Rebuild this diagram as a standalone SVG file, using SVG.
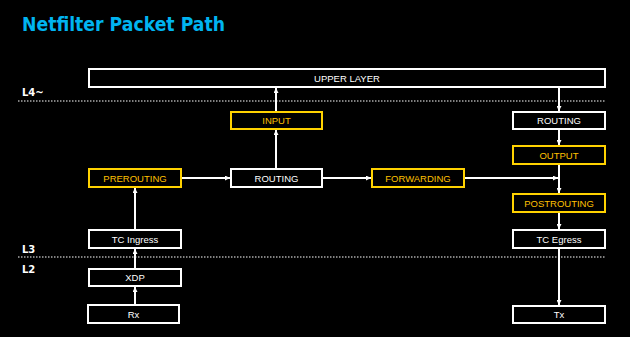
<svg xmlns="http://www.w3.org/2000/svg" width="630" height="337" viewBox="0 0 630 337">
<defs>
<marker id="ah" viewBox="0 0 10 10" refX="10" refY="5" markerWidth="5" markerHeight="5" orient="auto" markerUnits="userSpaceOnUse">
<path d="M0,0 L10,5 L0,10 z" fill="#fff"/>
</marker>
<style>
.w rect{fill:#000;stroke:#fff;stroke-width:2}
.y rect{fill:#000;stroke:#ffd200;stroke-width:2}
text{font-family:"Liberation Sans",Arial,sans-serif;font-size:9.5px;text-anchor:middle;dominant-baseline:central}
.w text{fill:#fff}
.y text{fill:#ffc000}
.lyr{font-family:"DejaVu Sans",Verdana,sans-serif;font-weight:bold;font-size:10px;fill:#fff;text-anchor:start}
.dot{stroke:#aaa;stroke-width:1.5;stroke-dasharray:1.5 1.5}
#conn line{stroke:#fff;stroke-width:2;marker-end:url(#ah)}
</style>
</defs>
<rect width="630" height="337" fill="#000"/>
<text x="22" y="31" style="font-family:'DejaVu Sans',Verdana,sans-serif;font-weight:bold;font-size:20px;fill:#00b4f0;text-anchor:start;dominant-baseline:auto" textLength="203" lengthAdjust="spacingAndGlyphs">Netfilter Packet Path</text>
<text class="lyr" x="22" y="92">L4~</text>
<text class="lyr" x="22" y="249">L3</text>
<text class="lyr" x="22" y="269">L2</text>
<line class="dot" x1="18" y1="101" x2="605" y2="101"/>
<line class="dot" x1="18" y1="257" x2="605" y2="257"/>
<g id="conn">
<line x1="135" y1="305" x2="135" y2="287"/>
<line x1="135" y1="269" x2="135" y2="249"/>
<line x1="135" y1="230" x2="135" y2="188"/>
<line x1="181" y1="178" x2="230" y2="178"/>
<line x1="276" y1="169" x2="276" y2="130"/>
<line x1="276" y1="112" x2="276" y2="88"/>
<line x1="322" y1="178" x2="371" y2="178"/>
<line x1="464" y1="178" x2="558" y2="178"/>
<line x1="559" y1="87" x2="559" y2="111"/>
<line x1="559" y1="129" x2="559" y2="145"/>
<line x1="559" y1="164" x2="559" y2="193"/>
<line x1="559" y1="212" x2="559" y2="229"/>
<line x1="559" y1="248" x2="559" y2="305"/>
</g>
<g id="upper" class="w"><rect x="89" y="69" width="516" height="18"/><text x="347" y="78">UPPER LAYER</text></g>
<g id="input" class="y"><rect x="231" y="112" width="91" height="17"/><text x="276.5" y="120.5">INPUT</text></g>
<g id="prerouting" class="y"><rect x="89" y="169" width="92" height="18"/><text x="135" y="178">PREROUTING</text></g>
<g id="routing1" class="w"><rect x="231" y="169" width="91" height="18"/><text x="276.5" y="178">ROUTING</text></g>
<g id="forwarding" class="y"><rect x="372" y="169" width="92" height="18"/><text x="418" y="178">FORWARDING</text></g>
<g id="routing2" class="w"><rect x="513" y="112" width="92" height="17"/><text x="559" y="120.5">ROUTING</text></g>
<g id="output" class="y"><rect x="513" y="146" width="92" height="18"/><text x="559" y="155">OUTPUT</text></g>
<g id="postrouting" class="y"><rect x="513" y="194" width="92" height="18"/><text x="559" y="203">POSTROUTING</text></g>
<g id="tcegress" class="w"><rect x="513" y="230" width="92" height="18"/><text x="559" y="239">TC Egress</text></g>
<g id="tx" class="w"><rect x="513" y="306" width="92" height="17"/><text x="559" y="314.5">Tx</text></g>
<g id="tcingress" class="w"><rect x="89" y="230" width="92" height="18"/><text x="135" y="239">TC Ingress</text></g>
<g id="xdp" class="w"><rect x="89" y="269" width="92" height="17"/><text x="135" y="277.5">XDP</text></g>
<g id="rx" class="w"><rect x="88" y="305" width="91" height="18"/><text x="133.5" y="314">Rx</text></g>
</svg>
